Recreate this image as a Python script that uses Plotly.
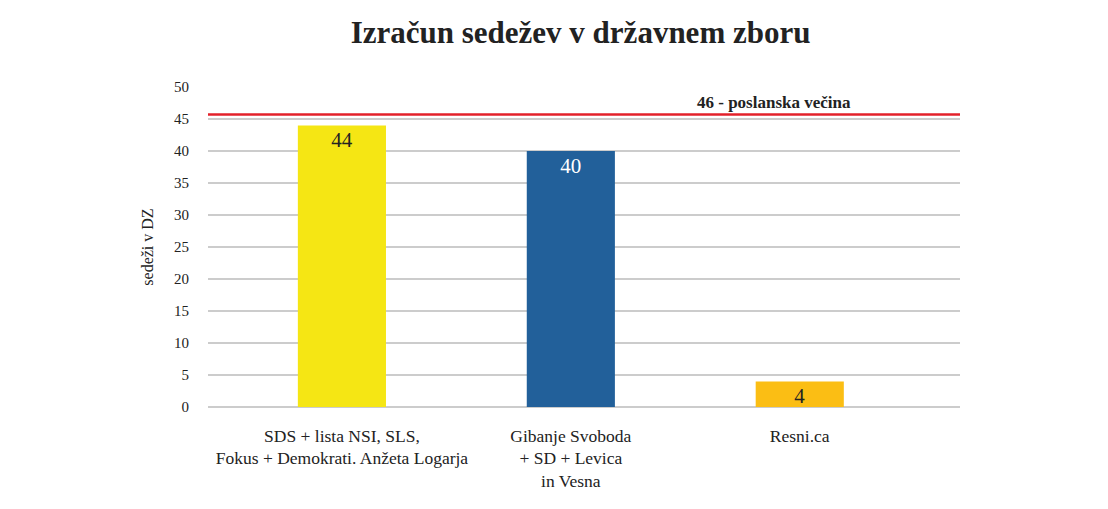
import plotly.graph_objects as go

categories = ["SDS + lista NSI, SLS,<br>Fokus + Demokrati. Anžeta Logarja",
              "Gibanje Svoboda<br>+ SD + Levica<br>in Vesna",
              "Resni.ca"]
seats = [44, 40, 4]
bar_colors = ["#F5E614", "#22609A", "#FBBE14"]
label_colors = ["#222222", "#FFFFFF", "#222222"]
majority_line = 45.7
majority_label = "46 - poslanska večina"
y_ticks = [0, 5, 10, 15, 20, 25, 30, 35, 40, 45, 50]

serif = "Liberation Serif, DejaVu Serif, serif"
x_range = [-0.585, 2.70]

fig = go.Figure()
fig.add_trace(go.Bar(
    x=list(range(len(categories))), y=seats,
    marker=dict(color=bar_colors, line=dict(width=0)),
    width=0.385,
    text=[str(v) for v in seats],
    textposition="inside", insidetextanchor="end", textangle=0,
    textfont=dict(family=serif, size=21, color=label_colors),
    constraintext="none",
    hoverinfo="skip",
))

fig.add_trace(go.Scatter(
    x=x_range, y=[majority_line, majority_line], mode="lines",
    line=dict(color="#E3202A", width=2.5), hoverinfo="skip",
    cliponaxis=True,
))
fig.add_annotation(x=1.886, y=majority_line, xref="x", yref="y",
                   text="<b>" + majority_label + "</b>", showarrow=False,
                   yanchor="bottom", yshift=1,
                   font=dict(family=serif, size=17, color="#222222"))

fig.update_layout(
    width=1108, height=509,
    margin=dict(l=208, r=148, t=87, b=102),
    paper_bgcolor="white", plot_bgcolor="white",
    showlegend=False,
    title=dict(text="<b>Izračun sedežev v državnem zboru</b>",
               x=0.524, xanchor="center", y=0.937, yanchor="middle",
               font=dict(family=serif, size=31, color="#222222")),
    xaxis=dict(range=x_range, tickmode="array",
               tickvals=list(range(len(categories))), ticktext=categories,
               showgrid=False, zeroline=False, showline=False,
               ticks="", ticklabelstandoff=16,
               tickfont=dict(family=serif, size=17.5, color="#222222")),
    yaxis=dict(range=[0, 50], tickmode="array", tickvals=y_ticks,
               ticktext=[str(t) for t in y_ticks],
               showgrid=True, gridcolor="#CCCCCC", gridwidth=1.5,
               zeroline=True, zerolinecolor="#CCCCCC", zerolinewidth=1.5,
               showline=False, ticks="", ticklabelstandoff=18,
               tickfont=dict(family=serif, size=15, color="#222222"),
               title=dict(text="sedeži v DZ", standoff=16,
                          font=dict(family=serif, size=16, color="#222222"))),
    bargap=0.6,
)

fig.write_html("out.html")
